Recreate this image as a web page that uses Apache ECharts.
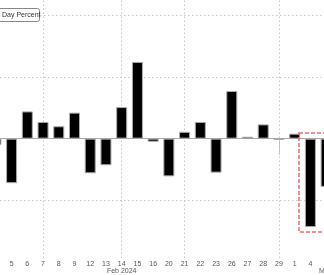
<!DOCTYPE html>
<html><head><meta charset="utf-8">
<script src="https://cdn.jsdelivr.net/npm/echarts@6/dist/echarts.min.js"></script>
<style>html,body{margin:0;padding:0;background:#fff;overflow:hidden;width:324px;height:275px;position:relative}
#c{position:absolute;left:-12px;top:-16px;width:346px;height:291px}</style>
</head><body><div id="c"></div>
<script>
const dates = ['2024-02-02','2024-02-05','2024-02-06','2024-02-07','2024-02-08','2024-02-09','2024-02-12','2024-02-13','2024-02-14','2024-02-15','2024-02-16','2024-02-20','2024-02-21','2024-02-22','2024-02-23','2024-02-26','2024-02-27','2024-02-28','2024-02-29','2024-03-01','2024-03-04','2024-03-05'];
const dayPercent = [-0.10,-0.72,0.44,0.27,0.20,0.42,-0.56,-0.43,0.51,1.24,-0.05,-0.61,0.11,0.27,-0.55,0.77,0.03,0.23,-0.02,0.08,-1.43,-0.78];
const gridValues = [2,1,-1];
const gridDates = ['2024-02-07','2024-02-14','2024-02-21','2024-02-29'];
const monthLabels = {'2024-02-14':'Feb 2024'};
const legendText = 'Day Percent';

const OX = 12, OY = 16; // container offset
const chart = echarts.init(document.getElementById('c'));
const gridMarks = gridValues.map(v => ({yAxis: v})).concat(gridDates.map(d => ({xAxis: d})));
chart.setOption({
  animation: false,
  grid: {left: 0, right: 0, top: 0, bottom: 16},
  xAxis: {
    type: 'category', data: dates, boundaryGap: true,
    axisLine: {lineStyle: {color: '#aaa', width: 1}},
    axisTick: {show: true, alignWithLabel: true, length: 16,
      interval: (i, v) => v === '2024-02-29', lineStyle: {color: '#bbb'}},
    axisLabel: {
      interval: (i) => i >= 1 && i <= 20,
      margin: 3, color: '#555', fontSize: 7, fontFamily: 'Liberation Sans', lineHeight: 7,
      formatter: (v) => String(+v.slice(8)) + (monthLabels[v] ? '\n' + monthLabels[v] : '')
    },
    splitLine: {show: false}
  },
  yAxis: {type: 'value', min: -1.93, max: 2.5, axisLabel: {show: false}, splitLine: {show: false}, axisLine: {show: false}, axisTick: {show: false}},
  series: [
    {type: 'line', z: 1, data: dates.map(() => '-'), showSymbol: false, silent: true,
     markLine: {z: 1, silent: true, symbol: ['none','none'], label: {show: false},
       lineStyle: {type: [1.5, 2.5], color: '#c8c8c8', width: 1}, data: gridMarks}},
    {type: 'bar', z: 3, data: dayPercent, barWidth: 11,
     itemStyle: {color: '#000', borderColor: '#aaa', borderWidth: 1}}
  ],
  graphic: [
    {type: 'rect', shape: {x: 299 + OX, y: 133 + OY, width: 40, height: 99},
     style: {fill: 'none', stroke: '#f26b6b', lineWidth: 1.5, lineDash: [4, 2]}, z: 10},
    {type: 'rect', shape: {x: -10 + OX, y: 8.5 + OY, width: 49.5, height: 13, r: 2},
     style: {fill: '#fff', stroke: '#888', lineWidth: 1}, z: 10},
    {type: 'text', x: 2 + OX, y: 15 + OY, style: {text: legendText, fill: '#333', font: '7px "Liberation Sans"', textVerticalAlign: 'middle'}, z: 11},
    {type: 'text', x: 319 + OX, y: 271 + OY, style: {text: 'Mar 2024', fill: '#555', font: '7px "Liberation Sans"', textVerticalAlign: 'middle'}, z: 11}
  ]
});
</script></body></html>
